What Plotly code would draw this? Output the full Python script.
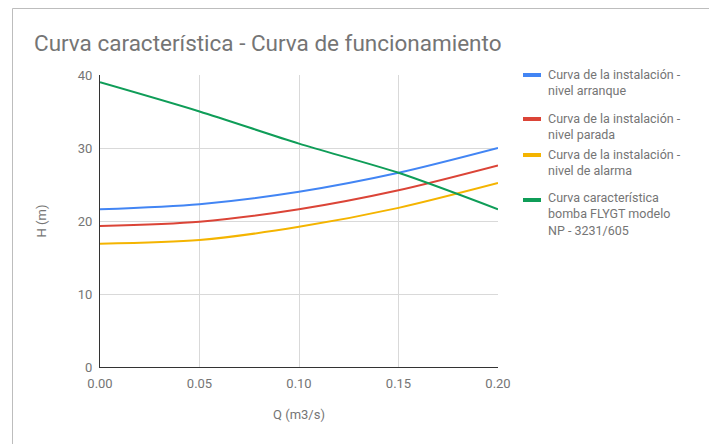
import plotly.graph_objects as go

# Flow rate (m3/s) and head (m) for each curve
caudal = [0.00, 0.05, 0.10, 0.15, 0.20]
h_arranque = [21.6, 22.3, 24.0, 26.6, 30.0]
h_parada = [19.3, 19.9, 21.6, 24.2, 27.6]
h_alarma = [16.9, 17.4, 19.2, 21.8, 25.2]
h_bomba = [39.0, 35.0, 30.6, 26.6, 21.6]

series_names = [
    ["Curva de la instalación -", "nivel arranque"],
    ["Curva de la instalación -", "nivel parada"],
    ["Curva de la instalación -", "nivel de alarma"],
    ["Curva característica", "bomba FLYGT modelo", "NP - 3231/605"],
]
series_colors = ["#4285F4", "#DB4437", "#F4B400", "#0F9D58"]
series_values = [h_arranque, h_parada, h_alarma, h_bomba]

W, H = 709, 444
L, R, T, B = 100, 211, 75, 77
FONT = "Roboto"
GRAY = "#757575"


def px_x(x):
    return (x - L) / (W - L - R)


def px_y(y):
    return (H - B - y) / (H - T - B)


fig = go.Figure()
for name, color, vals in zip(series_names, series_colors, series_values):
    fig.add_trace(go.Scatter(
        x=caudal, y=vals, mode="lines", name=" ".join(name),
        line=dict(color=color, width=2, shape="spline", smoothing=0.8),
        showlegend=False, hoverinfo="x+y",
    ))

shapes = [
    # outer chart frame
    dict(type="line", xref="paper", yref="paper",
         x0=px_x(12.5), x1=px_x(720), y0=px_y(8.5), y1=px_y(8.5),
         line=dict(color="#bdbdbd", width=1)),
    dict(type="line", xref="paper", yref="paper",
         x0=px_x(12.5), x1=px_x(12.5), y0=px_y(8.5), y1=px_y(460),
         line=dict(color="#bdbdbd", width=1)),
]
annotations = []

# custom legend: short colour bar + wrapped label block
legend_first_row = [75, 119, 155, 200]
line_gap = 14
for lines, color, y0 in zip(series_names, series_colors, legend_first_row):
    shapes.append(dict(type="rect", xref="paper", yref="paper",
                       x0=px_x(523), x1=px_x(541),
                       y0=px_y(y0 - 2), y1=px_y(y0 + 2),
                       fillcolor=color, line=dict(width=0)))
    centre = y0 + (len(lines) - 1) * line_gap / 2
    annotations.append(dict(
        text="<br>".join(lines), xref="paper", yref="paper",
        x=px_x(546), y=px_y(centre), xanchor="left", yanchor="middle",
        align="left", showarrow=False,
        font=dict(family=FONT, size=12.5, color=GRAY),
    ))

fig.update_layout(
    width=W, height=H,
    margin=dict(l=L, r=R, t=T, b=B),
    paper_bgcolor="white", plot_bgcolor="white",
    title=dict(text="Curva característica - Curva de funcionamiento",
               x=34 / W, xref="container", xanchor="left",
               y=1 - 43 / H, yref="container", yanchor="middle",
               font=dict(family=FONT, size=22.5, color=GRAY)),
    font=dict(family=FONT, size=13, color=GRAY),
    shapes=shapes,
    annotations=annotations,
    xaxis=dict(
        range=[0, 0.2], dtick=0.05, tickformat=".2f",
        showgrid=True, gridcolor="#d9d9d9", gridwidth=1,
        zeroline=False, showline=True, linecolor="#333333", linewidth=1,
        ticks="", ticklabelstandoff=4,
        tickfont=dict(family=FONT, size=13, color=GRAY),
        title=dict(text="Q (m3/s)", standoff=20,
                   font=dict(family=FONT, size=13, color=GRAY)),
    ),
    yaxis=dict(
        range=[0, 40], dtick=10,
        showgrid=True, gridcolor="#d9d9d9", gridwidth=1,
        zeroline=False, showline=True, linecolor="#333333", linewidth=1,
        ticks="", ticklabelstandoff=4,
        tickfont=dict(family=FONT, size=13, color=GRAY),
        title=dict(text="H (m)", standoff=28,
                   font=dict(family=FONT, size=13, color=GRAY)),
    ),
)

fig.write_html("out.html")
